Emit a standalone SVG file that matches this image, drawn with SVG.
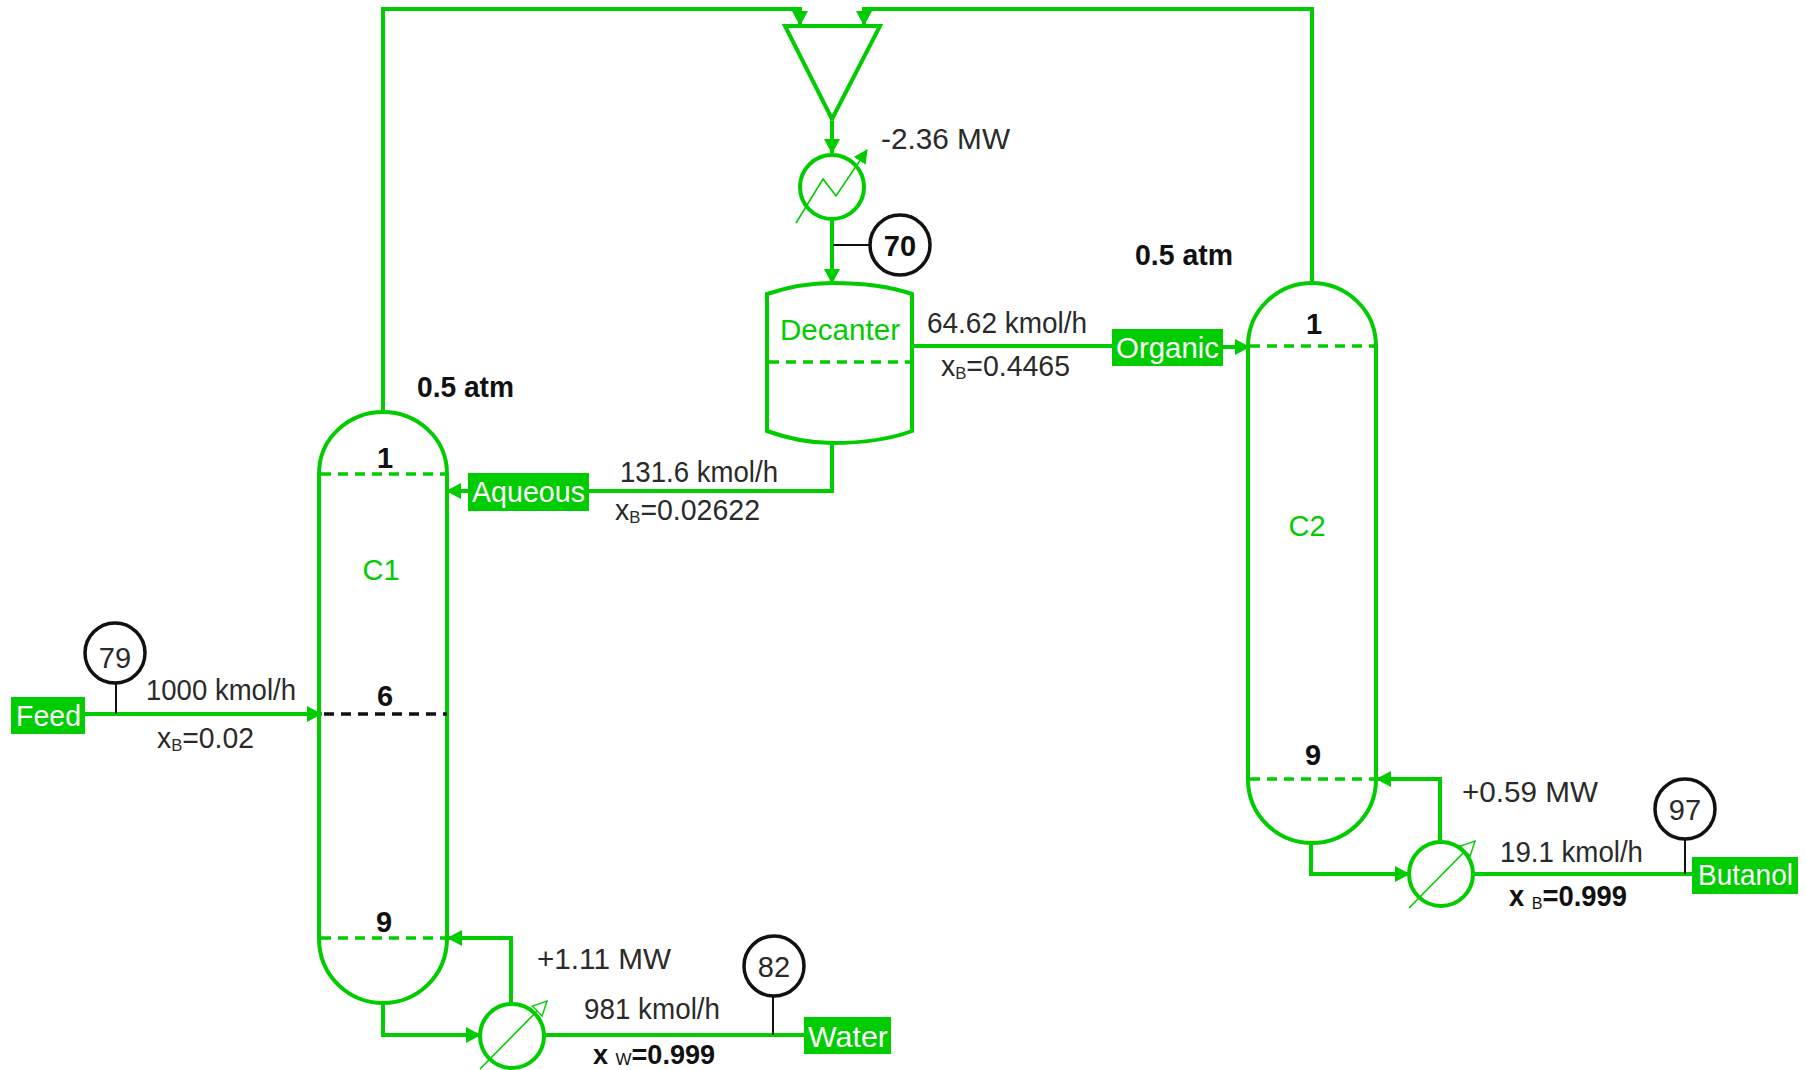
<svg xmlns="http://www.w3.org/2000/svg" width="1805" height="1070" viewBox="0 0 1805 1070">
<style>
text{font-family:"Liberation Sans",Arial,sans-serif;font-size:29px;fill:#2a2a2a}
.b{font-weight:bold;fill:#111}
.g{fill:#00cc00}
.w{fill:#fff}
.m{text-anchor:middle}
.sub{font-size:17px}
.eq{fill:none;stroke:#00cc00;stroke-width:4}
.dash{fill:none;stroke:#00cc00;stroke-width:3.5;stroke-dasharray:10 7}
.thin{fill:none;stroke:#00cc00;stroke-width:1.6}
.conn{fill:none;stroke:#00cc00;stroke-width:4;marker-end:url(#arr)}
.plain{fill:none;stroke:#00cc00;stroke-width:4}
.tag{fill:none;stroke:#111;stroke-width:2}
.ring{fill:#fff;stroke:#111;stroke-width:3.5}
.box{fill:#00cc00}
</style>
<defs>
<marker id="arr" markerUnits="userSpaceOnUse" markerWidth="18" markerHeight="18" refX="15" refY="8" orient="auto"><path d="M0 0L15 8L0 16Z" fill="#00cc00"/></marker>
<marker id="arrT" markerUnits="userSpaceOnUse" markerWidth="16" markerHeight="16" refX="13" refY="7" orient="auto"><path d="M0 0L14 7L0 14Z" fill="#00cc00"/></marker>
<marker id="arrO" markerUnits="userSpaceOnUse" markerWidth="18" markerHeight="18" refX="15" refY="8" orient="auto"><path d="M1 1L15 8L1 15Z" fill="#fff" stroke="#00cc00" stroke-width="1.4"/></marker>
</defs>
<g transform="translate(0,1)">
<g id="connectors">
<path class="conn" d="M383 411V8H800V25"/>
<path class="conn" d="M1312 282V8H864V25"/>
<path class="conn" d="M832 120V153"/>
<path class="conn" d="M832 218V283"/>
<path class="plain" d="M912 345H1112"/>
<path class="conn" d="M1223 346H1250"/>
<path class="plain" d="M832 442V490H589"/>
<path class="conn" d="M468 490H446"/>
<path class="conn" d="M85 713H322"/>
<path class="conn" d="M383 1002V1034H481"/>
<path class="conn" d="M511 1003V937H447"/>
<path class="plain" d="M544 1034H804"/>
<path class="conn" d="M1311 842V873H1410"/>
<path class="conn" d="M1440 841V778H1376"/>
<path class="plain" d="M1473 873H1692"/>
<path class="tag" d="M833 244H870"/>
<path class="tag" d="M116 713V682"/>
<path class="tag" d="M773 1034V995"/>
<path class="tag" d="M1685 873V838"/>
</g>

<g id="mixer"><path class="eq" d="M785 25H880L832 118Z"/></g>

<g id="condenser">
<circle class="eq" cx="832" cy="186" r="32"/>
<path class="thin" marker-end="url(#arrT)" d="M796 222L823 178L836 195L867 149"/>
<text x="881" y="148" textLength="129" lengthAdjust="spacingAndGlyphs">-2.36 MW</text>
</g>

<g id="tag70"><circle class="ring" cx="900" cy="244" r="30"/><text class="b m" x="900" y="255">70</text></g>

<g id="decanter">
<path class="eq" d="M767 293Q800 282 832 282Q880 282 912 293V430Q880 442 832 442Q800 442 767 430Z"/>
<path class="dash" d="M769 361H910"/>
<text class="g" x="780" y="339" textLength="120" lengthAdjust="spacingAndGlyphs">Decanter</text>
</g>

<g id="column-c1">
<path class="eq" d="M319 473C319 436 350 411 383 411C416 411 447 436 447 473V937C447 976 416 1002 383 1002C350 1002 319 976 319 937Z"/>
<path class="dash" d="M321 473H445"/>
<path class="dash" style="stroke:#111" d="M324 713H447"/>
<path class="dash" d="M321 937H445"/>
<text class="b m" x="385" y="467">1</text>
<text class="b m" x="385" y="705">6</text>
<text class="b m" x="384" y="931">9</text>
<text class="g m" x="381" y="579">C1</text>
<text class="b" x="417" y="396" textLength="97" lengthAdjust="spacingAndGlyphs">0.5 atm</text>
</g>

<g id="column-c2">
<path class="eq" d="M1248 345C1248 308 1279 282 1312 282C1345 282 1376 308 1376 345V778C1376 816 1345 842 1312 842C1279 842 1248 816 1248 778Z"/>
<path class="dash" d="M1250 345H1374"/>
<path class="dash" d="M1250 778H1374"/>
<text class="b m" x="1314" y="333">1</text>
<text class="b m" x="1313" y="764">9</text>
<text class="g m" x="1307" y="535">C2</text>
<text class="b" x="1135" y="264" textLength="98" lengthAdjust="spacingAndGlyphs">0.5 atm</text>
</g>

<g id="reboiler-c1">
<circle class="eq" cx="512" cy="1035" r="32"/>
<path class="thin" marker-end="url(#arrO)" d="M480 1068L547 1000"/>
<text x="537" y="968" textLength="134" lengthAdjust="spacingAndGlyphs">+1.11 MW</text>
</g>

<g id="reboiler-c2">
<circle class="eq" cx="1441" cy="873" r="32"/>
<path class="thin" marker-end="url(#arrO)" d="M1409 907L1475 840"/>
<text x="1462" y="801" textLength="136" lengthAdjust="spacingAndGlyphs">+0.59 MW</text>
</g>

<g id="feed">
<rect class="box" x="11" y="696" width="74" height="37"/>
<text class="w" x="16" y="725" textLength="65" lengthAdjust="spacingAndGlyphs">Feed</text>
<text x="146" y="699" textLength="150" lengthAdjust="spacingAndGlyphs">1000 kmol/h</text>
<text x="157" y="747" textLength="97" lengthAdjust="spacingAndGlyphs">x<tspan class="sub" dy="3">B</tspan><tspan dy="-3">=0.02</tspan></text>
</g>
<g id="tag79"><circle class="ring" cx="115" cy="652" r="30"/><text class="m" x="115" y="667">79</text></g>

<g id="aqueous">
<rect class="box" x="468" y="472" width="121" height="38"/>
<text class="w" x="472" y="501" textLength="113" lengthAdjust="spacingAndGlyphs">Aqueous</text>
<text x="620" y="481" textLength="158" lengthAdjust="spacingAndGlyphs">131.6 kmol/h</text>
<text x="615" y="519" textLength="145" lengthAdjust="spacingAndGlyphs">x<tspan class="sub" dy="3">B</tspan><tspan dy="-3">=0.02622</tspan></text>
</g>

<g id="organic">
<rect class="box" x="1112" y="328" width="111" height="37"/>
<text class="w" x="1116" y="357" textLength="103" lengthAdjust="spacingAndGlyphs">Organic</text>
<text x="927" y="332" textLength="160" lengthAdjust="spacingAndGlyphs">64.62 kmol/h</text>
<text x="941" y="375" textLength="129" lengthAdjust="spacingAndGlyphs">x<tspan class="sub" dy="3">B</tspan><tspan dy="-3">=0.4465</tspan></text>
</g>

<g id="water">
<rect class="box" x="804" y="1016" width="87" height="37"/>
<text class="w" x="808" y="1046" textLength="80" lengthAdjust="spacingAndGlyphs">Water</text>
<text x="584" y="1018" textLength="136" lengthAdjust="spacingAndGlyphs">981 kmol/h</text>
<text class="b" style="font-size:27px" x="593" y="1063" textLength="122" lengthAdjust="spacingAndGlyphs">x <tspan class="sub" style="font-weight:normal" dy="1">W</tspan><tspan dy="-1">=0.999</tspan></text>
</g>
<g id="tag82"><circle class="ring" cx="774" cy="965" r="30"/><text class="m" x="774" y="976">82</text></g>

<g id="butanol">
<rect class="box" x="1692" y="856" width="106" height="37"/>
<text class="w" x="1698" y="884" textLength="95" lengthAdjust="spacingAndGlyphs">Butanol</text>
<text x="1500" y="861" textLength="143" lengthAdjust="spacingAndGlyphs">19.1 kmol/h</text>
<text class="b" x="1509" y="905" textLength="118" lengthAdjust="spacingAndGlyphs">x <tspan class="sub" style="font-weight:normal" dy="3">B</tspan><tspan dy="-3">=0.999</tspan></text>
</g>
<g id="tag97"><circle class="ring" cx="1685" cy="808" r="30"/><text class="m" x="1685" y="819">97</text></g>
</g>
</svg>
